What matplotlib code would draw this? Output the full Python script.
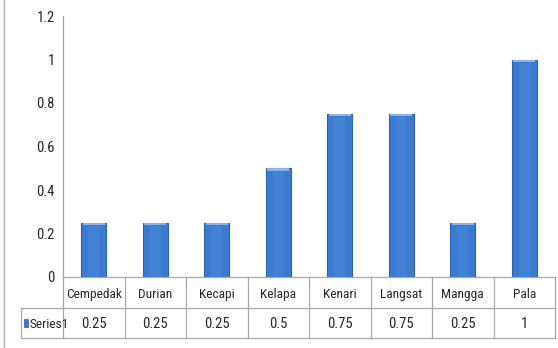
import matplotlib
matplotlib.use("Agg")
import matplotlib.pyplot as plt
import matplotlib.transforms as mtransforms
from matplotlib.font_manager import fontManager, FontProperties

categories = ["Cempedak", "Durian", "Kecapi", "Kelapa", "Kenari", "Langsat", "Mangga", "Pala"]
values = [0.25, 0.25, 0.25, 0.5, 0.75, 0.75, 0.25, 1]
value_labels = ["0.25", "0.25", "0.25", "0.5", "0.75", "0.75", "0.25", "1"]
yticks = [0, 0.2, 0.4, 0.6, 0.8, 1, 1.2]
ytick_labels = ["0", "0.2", "0.4", "0.6", "0.8", "1", "1.2"]
series_name = "Series1"


def pick_font():
    def ok(f):
        return f.style == "normal" and str(f.weight) in ("400", "normal", "regular", "book")
    cands = [f for f in fontManager.ttflist if ok(f)]
    prefs = [
        lambda f: f.name == "Liberation Sans Narrow",
        lambda f: f.name == "Roboto Condensed",
        lambda f: "Condensed" in f.name and "Semi" not in f.name and "Extra" not in f.name and "Sans" in f.name,
        lambda f: f.name in ("Noto Sans", "Open Sans", "Roboto") and str(f.stretch) in ("condensed", "75", "62.5"),
        lambda f: f.name == "DejaVu Sans" and str(f.stretch) in ("condensed", "semi-condensed"),
        lambda f: "Condensed" in f.fname or "Narrow" in f.fname,
    ]
    for p in prefs:
        for f in cands:
            if p(f):
                return f.fname
    return None


fpath = pick_font()
FP = FontProperties(fname=fpath) if fpath else FontProperties(family="DejaVu Sans")
FS = 10.5
FS_CAT = 9.6
TC = "#262626"

W, H = 558, 348
fig = plt.figure(figsize=(W / 100, H / 100), dpi=100)
left, right, top, bottom = 63, 555, 16, 277
ax = fig.add_axes([left / W, 1 - bottom / H, (right - left) / W, (bottom - top) / H])

x = list(range(len(categories)))
bar_color = "#3b7bcf"
ax.bar(x, values, width=0.41, color=bar_color, edgecolor="#2d62a8", linewidth=0.8, zorder=2)
ax.bar(x, [0.012] * len(values), bottom=[v - 0.012 for v in values], width=0.35,
       color="#8db4e6", linewidth=0, zorder=3)
ax.bar(x, [v - 0.015 for v in values], width=0.18, color="#4282d4", linewidth=0, zorder=2.5)

ax.set_xlim(-0.5, len(categories) - 0.5)
ax.set_ylim(0, 1.2)
ax.set_yticks(yticks)
ax.set_yticklabels(ytick_labels, fontproperties=FP, fontsize=FS, color=TC)
ax.set_xticks([])
ax.tick_params(axis="y", length=0, pad=5.8)
for s in ["top", "right", "bottom"]:
    ax.spines[s].set_visible(False)
ax.spines["left"].set_color("#a0a0a0")
ax.spines["left"].set_linewidth(0.9)

trans = mtransforms.blended_transform_factory(ax.transData, ax.transAxes)
axh = bottom - top
row1 = -(308 - bottom) / axh
row2 = -(338 - bottom) / axh
colw = (right - left) / len(categories)
xl = -0.5 - (left - 21) / colw
lc = "#a8a8a8"
lw = 0.9
n = len(categories)
ax.plot([-0.5, n - 0.5], [0, 0], color=lc, lw=lw, transform=trans, clip_on=False)
ax.plot([xl, n - 0.5], [row1, row1], color=lc, lw=lw, transform=trans, clip_on=False)
ax.plot([xl, n - 0.5], [row2, row2], color=lc, lw=lw, transform=trans, clip_on=False)
ax.plot([xl, xl], [row1, row2], color=lc, lw=lw, transform=trans, clip_on=False)
for i in range(n + 1):
    ax.plot([i - 0.5, i - 0.5], [0, row2], color=lc, lw=lw, transform=trans, clip_on=False)
for i, (c, v) in enumerate(zip(categories, value_labels)):
    ax.text(i, row1 / 2 - 0.006, c, ha="center", va="center", fontproperties=FP, fontsize=FS_CAT,
            color=TC, transform=trans)
    ax.text(i, (row1 + row2) / 2 - 0.004, v, ha="center", va="center", fontproperties=FP, fontsize=FS,
            color=TC, transform=trans)
ax.add_patch(plt.Rectangle((xl + 0.05, (row1 + row2) / 2 - 0.016), 0.07, 0.032, transform=trans,
                           facecolor=bar_color, edgecolor="#2d62a8", lw=0.5, clip_on=False))
ax.text(xl + 0.135, (row1 + row2) / 2 - 0.004, series_name, ha="left", va="center", fontproperties=FP,
        fontsize=FS_CAT, color=TC, transform=trans)

fig.add_artist(plt.Line2D([4 / W, 4 / W], [0, 1], color="#b0b0b0", lw=1))

fig.savefig("out.png", dpi=100)
